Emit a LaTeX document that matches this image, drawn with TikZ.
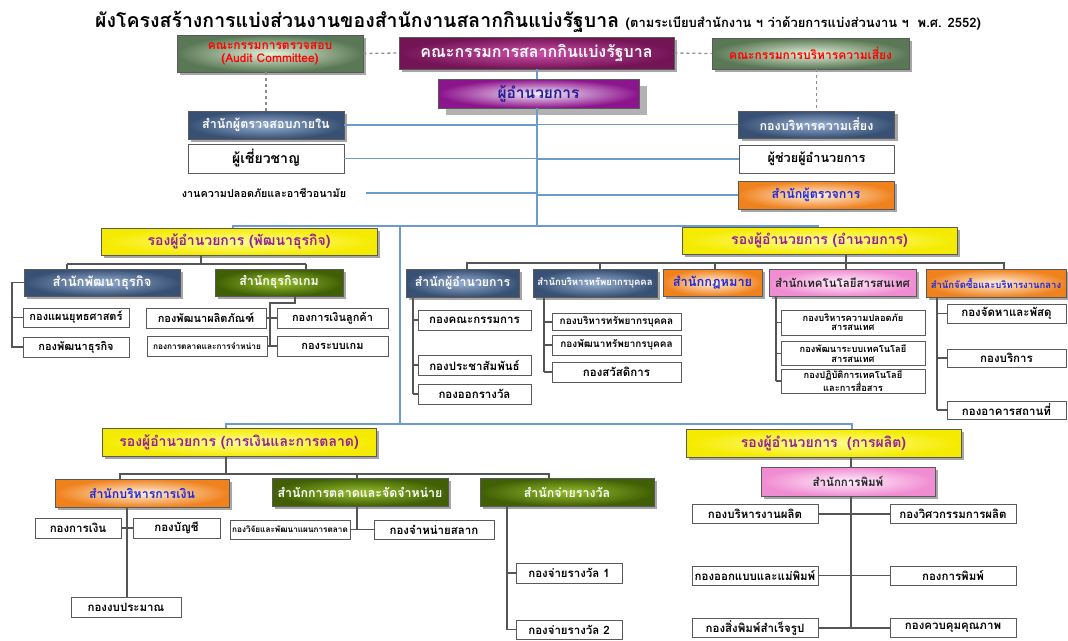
\documentclass[tikz,border=0pt]{standalone}
\usepackage{fontspec}
\setmainfont[Script=Thai]{Loma}
\usetikzlibrary{positioning,shadows,calc}
\definecolor{lineblue}{RGB}{110,155,205}
\definecolor{linegray}{RGB}{85,85,85}
\definecolor{boxline}{RGB}{90,90,90}
\definecolor{cmtout}{RGB}{90,120,85}
\definecolor{cmtin}{RGB}{225,240,215}
\definecolor{brdout}{RGB}{115,20,85}
\definecolor{brdin}{RGB}{205,80,170}
\definecolor{dirout}{RGB}{140,20,140}
\definecolor{dirin}{RGB}{245,235,250}
\definecolor{bgout}{RGB}{55,80,115}
\definecolor{bgin}{RGB}{150,175,210}
\definecolor{orout}{RGB}{240,130,30}
\definecolor{orin}{RGB}{255,240,220}
\definecolor{yelout}{RGB}{245,235,0}
\definecolor{yelin}{RGB}{255,255,150}
\definecolor{dgout}{RGB}{65,95,5}
\definecolor{dgin}{RGB}{150,190,45}
\definecolor{pkout}{RGB}{240,140,210}
\definecolor{pkin}{RGB}{255,240,252}
\definecolor{vptext}{RGB}{150,30,150}
\definecolor{navy}{RGB}{30,30,150}
\definecolor{offblue}{RGB}{30,40,220}
\tikzset{
		>=stealth,
		sz/.style 2 args={minimum width=#1, minimum height=#2},
		fpt/.style={font=\bfseries\fontsize{#1}{#1}\selectfont},
		box/.style={draw=boxline, line width=0.9pt, inner sep=1pt, align=center, fpt=11.5},
		shd/.style={drop shadow={shadow xshift=3pt, shadow yshift=-3pt, fill=black, opacity=.35}},
		kong/.style={box, fill=white},
		cmtbox/.style={box, shd, inner color=cmtin, outer color=cmtout, text=red, fpt=12},
		brdbox/.style={box, shd, inner color=brdin, outer color=brdout, text=white, fpt=16},
		dirbox/.style={box, drop shadow={shadow xshift=8pt, shadow yshift=-7pt, fill=black, opacity=.3},
			inner color=dirin, outer color=dirout, text=navy, fpt=15.5},
		bluebox/.style={box, shd, inner color=bgin, outer color=bgout, text=white, fpt=12.5},
		orgbox/.style={box, shd, inner color=orin, outer color=orout, text=offblue, fpt=12.5},
		yelbox/.style={box, shd, inner color=yelin, outer color=yelout, text=vptext, fpt=14},
		dgbox/.style={box, shd, inner color=dgin, outer color=dgout, text=white, fpt=12.4},
		pnkbox/.style={box, shd, inner color=pkin, outer color=pkout, text=black!85, fpt=11.5},
		conn/.style={draw=linegray, line width=1.3pt},
		bline/.style={draw=lineblue, line width=1.2pt},
		dashln/.style={draw=black!45, line width=1.3pt, dashed}
	}
\begin{document}
\begin{tikzpicture}[x=1pt, y=-1pt]
	\useasboundingbox (0,0) rectangle (1068,640);
	% title
	\node[anchor=base west, inner sep=0pt, fpt=19.5] (title) at (95,27)
		{ผังโครงสร้างการแบ่งส่วนงานของสำนักงานสลากกินแบ่งรัฐบาล {\fontsize{13}{13}\selectfont (ตามระเบียบสำนักงาน ฯ ว่าด้วยการแบ่งส่วนงาน ฯ \ พ.ศ. 2552)}};

	% board and director
	\node[cmtbox, sz={186}{37}] (audit) at (270,53.5) {คณะกรรมการตรวจสอบ\\[1pt](Audit Committee)};
	\node[brdbox, sz={275}{32}] (board) at (536.5,53) {คณะกรรมการสลากกินแบ่งรัฐบาล};
	\node[cmtbox, sz={197}{31}] (risk) at (810.5,53.5) {คณะกรรมการบริหารความเสี่ยง};
	\node[dirbox, sz={201}{29}] (dir) at (538.5,93.5) {ผู้อำนวยการ};

	% staff units
	\node[bluebox, sz={156}{28}] (audoff) at (266,125) {สำนักผู้ตรวจสอบภายใน};
	\node[kong, sz={156}{29}, fpt=14] (expert) at (266,158.5) {ผู้เชี่ยวชาญ};
	\node[inner sep=1pt, fpt=10.8] (safety) at (264,193) {งานความปลอดภัยและอาชีวอนามัย};
	\node[bluebox, sz={156}{27}] (riskoff) at (816.5,124.5) {กองบริหารความเสี่ยง};
	\node[kong, sz={155}{28}, fpt=12.7] (assist) at (816.5,159) {ผู้ช่วยผู้อำนวยการ};
	\node[orgbox, sz={156}{28}] (inspect) at (816,195) {สำนักผู้ตรวจการ};

	\coordinate (hub) at (537,226);
	\coordinate (jb) at (233,226);
	\coordinate (ja) at (818,226);
	\coordinate (jd) at (400,226);
	\coordinate (jm) at (400,424);
	\coordinate (jf) at (226,424);
	\coordinate (jp) at (852,424);

	\draw[dashln] (audit.east) -- (board.west) (board.east) -- (risk.west);
	\draw[dashln] (audit.south -| audoff.north) -- (audoff.north);
	\draw[dashln] (risk.south -| riskoff.north) -- (riskoff.north);
	\draw[bline] (board.south -| hub) -- (dir.north -| hub) (dir.south -| hub) -- (hub);
	\foreach \n in {audoff,expert} \draw[bline] (\n.east) -- (\n.east -| hub);
	\foreach \n in {riskoff,assist,inspect} \draw[bline] (\n.west) -- (\n.west -| hub);
	\draw[bline] ([xshift=19pt]safety.east) -- (safety.east -| hub);

	% deputy directors
	\node[yelbox, sz={276}{27}] (vpbiz) at (239,241.5) {รองผู้อำนวยการ (พัฒนาธุรกิจ)};
	\node[yelbox, sz={275}{27}] (vpadm) at (819.5,240.5) {รองผู้อำนวยการ (อำนวยการ)};
	\node[yelbox, sz={274}{28}] (vpfin) at (239,442) {รองผู้อำนวยการ (การเงินและการตลาด)};
	\node[yelbox, sz={275}{28}] (vpprod) at (823.5,443) {รองผู้อำนวยการ \ (การผลิต)};

	\draw[bline] (vpbiz.north -| jb) -- (jb) -- (ja) -- (ja |- vpadm.north);
	\draw[bline] (jd) -- (jm);
	\draw[bline] (vpfin.north -| jf) -- (jf) -- (jp) -- (jp |- vpprod.north);

	% business development
	\node[bluebox, sz={156}{27}, fpt=13] (offbiz) at (102,282.5) {สำนักพัฒนาธุรกิจ};
	\node[dgbox, sz={128}{27}] (offgame) at (279,282.5) {สำนักธุรกิจเกม};
	\node[kong, sz={106}{19}, fpt=11] (kplan) at (76,317.5) {กองแผนยุทธศาสตร์};
	\node[kong, sz={106}{20}, fpt=11] (kbdev) at (76,347) {กองพัฒนาธุรกิจ};
	\node[kong, sz={120}{20}, fpt=11] (kprod) at (206,318) {กองพัฒนาผลิตภัณฑ์};
	\node[kong, sz={111}{20}, fpt=11] (kcash) at (332.5,318) {กองการเงินลูกค้า};
	\node[kong, sz={120}{20}, fpt=8.3] (kgmkt) at (207,346) {กองการตลาดและการจำหน่าย};
	\node[kong, sz={111}{20}, fpt=11] (kgsys) at (332.5,346) {กองระบบเกม};

	\draw[conn] (vpbiz.south -| 201,0) -- (201,264) (67,264) -- (306,264)
		(67,264) -- (offbiz.north -| 67,0) (306,264) -- (offgame.north -| 306,0);
	\draw[conn] (offbiz.west) -| (kbdev.west -| 12,0) -- (kbdev.west);
	\draw[conn] (kplan.west -| 12,0) -- (kplan.west);
	\draw[conn] (offgame.south -| 295,0) |- (270,303) -- (kgmkt.east -| 270,0);
	\draw[conn] (kprod.east) -- (kcash.west) (kgmkt.east) -- (kgsys.west);

	% administration
	\node[bluebox, sz={113}{28}, fpt=12.3] (offdir) at (462.5,283) {สำนักผู้อำนวยการ};
	\node[bluebox, sz={124}{28}, fpt=9.5] (offhr) at (595,283) {สำนักบริหารทรัพยากรบุคคล};
	\node[orgbox, sz={99}{27}, fpt=12.8] (offlaw) at (712.5,282.5) {สำนักกฎหมาย};
	\node[pnkbox, sz={147}{27}] (offit) at (842.5,282.5) {สำนักเทคโนโลยีสารสนเทศ};
	\node[orgbox, sz={140}{28}, fpt=9.5] (offbuy) at (996,283) {สำนักจัดซื้อและบริหารงานกลาง};

	\node[kong, sz={113}{20}] (kcom) at (474.5,320) {กองคณะกรรมการ};
	\node[kong, sz={113}{20}] (kpr) at (474.5,365) {กองประชาสัมพันธ์};
	\node[kong, sz={113}{20}] (kdraw) at (474.5,394) {กองออกรางวัล};
	\node[kong, sz={129}{17}, fpt=10] (khr) at (616.5,322) {กองบริหารทรัพยากรบุคคล};
	\node[kong, sz={129}{20}, fpt=10] (khrd) at (616.5,345) {กองพัฒนาทรัพยากรบุคคล};
	\node[kong, sz={129}{20}] (kwel) at (616.5,372) {กองสวัสดิการ};
	\node[kong, sz={144}{25}, fpt=9.3] (kitsec) at (853,322.5) {กองบริหารความปลอดภัย\\สารสนเทศ};
	\node[kong, sz={144}{24}, fpt=9.3] (kitsys) at (853,353.5) {กองพัฒนาระบบเทคโนโลยี\\สารสนเทศ};
	\node[kong, sz={144}{24}, fpt=9.3] (kitops) at (853,381) {กองปฏิบัติการเทคโนโลยี\\และการสื่อสาร};
	\node[kong, sz={119}{19}] (kproc) at (1006.5,313.5) {กองจัดหาและพัสดุ};
	\node[kong, sz={119}{18}] (kserv) at (1006.5,358) {กองบริการ};
	\node[kong, sz={119}{18}] (kbldg) at (1006.5,410) {กองอาคารสถานที่};

	\draw[conn] (vpadm.south -| 846,0) -- (offit.north -| 846,0)
		(offdir.north -| 467,0) -- (467,263) -- (1004,263) -- (offbuy.north -| 1004,0);
	\foreach \o/\x in {offhr/600, offlaw/715} \draw[conn] (\x,263) -- (\o.north -| \x,0);
	\draw[conn] (offdir.south -| 413,0) -- (kdraw.west -| 413,0);
	\foreach \k in {kcom,kpr,kdraw} \draw[conn] (\k.west -| 413,0) -- (\k.west);
	\draw[conn] (offhr.south -| 544,0) -- (kwel.west -| 544,0);
	\foreach \k in {khr,khrd,kwel} \draw[conn] (\k.west -| 544,0) -- (\k.west);
	\draw[conn] (offit.south -| 776,0) -- (kitops.west -| 776,0);
	\foreach \k in {kitsec,kitsys,kitops} \draw[conn] (\k.west -| 776,0) -- (\k.west);
	\draw[conn] (offbuy.south -| 937,0) -- (kbldg.west -| 937,0);
	\foreach \k in {kproc,kserv,kbldg} \draw[conn] (\k.west -| 937,0) -- (\k.west);

	% finance and marketing
	\node[orgbox, sz={174}{28}, fpt=12.3] (offfin) at (142,493) {สำนักบริหารการเงิน};
	\node[dgbox, sz={176}{28}] (offmkt) at (360,492) {สำนักการตลาดและจัดจำหน่าย};
	\node[dgbox, sz={174}{28}] (offpay) at (567,492) {สำนักจ่ายรางวัล};
	\node[kong, sz={86}{20}] (kfin) at (78,528) {กองการเงิน};
	\node[kong, sz={87}{20}] (kacc) at (176.5,528) {กองบัญชี};
	\node[kong, sz={110}{20}] (kbud) at (126,607) {กองงบประมาณ};
	\node[kong, sz={120}{19}, fpt=8.2] (kres) at (290,529.5) {กองวิจัยและพัฒนาแผนการตลาด};
	\node[kong, sz={120}{19}] (ksale) at (434,529.5) {กองจำหน่ายสลาก};
	\node[kong, sz={106}{20}] (kpay1) at (569,573) {กองจ่ายรางวัล 1};
	\node[kong, sz={106}{19}] (kpay2) at (569,629.5) {กองจ่ายรางวัล 2};

	\draw[conn] (vpfin.south -| 226,0) -- (226,474)
		(offfin.north -| 120,0) -- (120,474) -- (549,474) -- (offpay.north -| 549,0)
		(357,474) -- (offmkt.north -| 357,0);
	\draw[conn] (offfin.south -| 127,0) -- (kbud.north -| 127,0) (kfin.east) -- (kacc.west);
	\draw[conn] (offmkt.south -| 357,0) -- (kres.east -| 357,0) (kres.east) -- (ksale.west);
	\draw[conn] (offpay.south -| 507,0) -- (kpay2.west -| 507,0) -- (kpay2.west)
		(kpay1.west -| 507,0) -- (kpay1.west);

	% production
	\node[pnkbox, sz={174}{29}] (offprint) at (848,481.5) {สำนักการพิมพ์};
	\node[kong, sz={126}{19}] (kpm) at (755,514) {กองบริหารงานผลิต};
	\node[kong, sz={126}{19}] (kdes) at (755,575.5) {กองออกแบบและแม่พิมพ์};
	\node[kong, sz={126}{19}] (kready) at (755,628) {กองสิ่งพิมพ์สำเร็จรูป};
	\node[kong, sz={126}{19}] (keng) at (953,514) {กองวิศวกรรมการผลิต};
	\node[kong, sz={126}{19}] (kprt) at (953,575.5) {กองการพิมพ์};
	\node[kong, sz={126}{19}] (kqc) at (953,628) {กองควบคุมคุณภาพ};

	\draw[conn] (vpprod.south -| 851,0) -- (offprint.north -| 851,0)
		(offprint.south -| 851,0) -- (851,628);
	\foreach \l/\r in {kpm/keng, kdes/kprt, kready/kqc} \draw[conn] (\l.east) -- (\r.west);
\end{tikzpicture}
\end{document}
